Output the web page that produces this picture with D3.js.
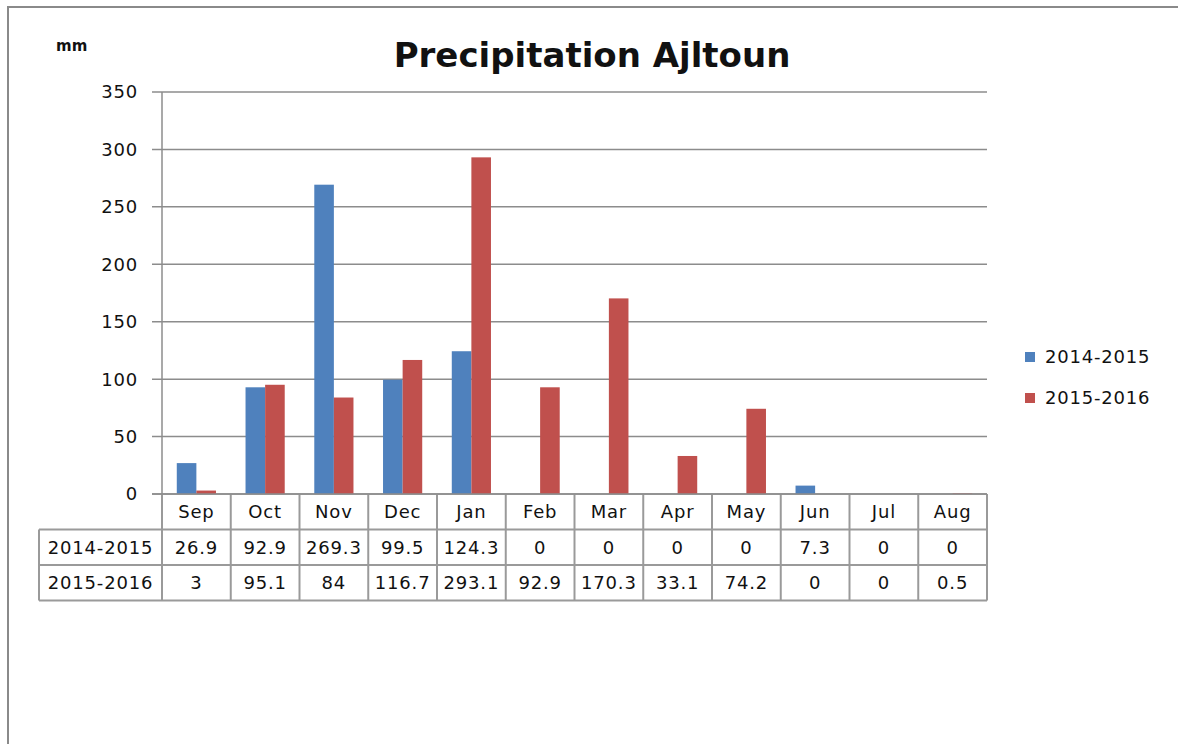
<!DOCTYPE html>
<html>
<head>
<meta charset="utf-8">
<script src="https://cdn.jsdelivr.net/npm/d3@7"></script>
<style>
  html, body { margin: 0; padding: 0; background: #fff; }
  svg { display: block; }
  text { font-family: "DejaVu Sans", Verdana, sans-serif; fill: #111; }
  .lbl { font-size: 18px; letter-spacing: 0.8px; }
</style>
</head>
<body>
<svg id="chart" width="1178" height="744"></svg>
<script>
// Monthly precipitation, Ajltoun (mm)
const months = ["Sep", "Oct", "Nov", "Dec", "Jan", "Feb", "Mar", "Apr", "May", "Jun", "Jul", "Aug"];
const seriesNames = ["2014-2015", "2015-2016"];
const season2014 = [26.9, 92.9, 269.3, 99.5, 124.3, 0, 0, 0, 0, 7.3, 0, 0];
const season2015 = [3, 95.1, 84, 116.7, 293.1, 92.9, 170.3, 33.1, 74.2, 0, 0, 0.5];
const yTicks = [0, 50, 100, 150, 200, 250, 300, 350];
const colors = ["#4F81BD", "#C0504D"];

const seriesValues = [season2014, season2015];

const svg = d3.select("#chart");
const gridColor = "#8c8c8c";
const tableColor = "#9a9a9a";

// frame around the chart area
svg.append("path")
  .attr("d", "M8,744 L8,7 L1178,7")
  .attr("fill", "none")
  .attr("stroke", "#8a8a8a")
  .attr("stroke-width", 2);

const plot = { left: 162, right: 987, top: 92, bottom: 494 };

const x = d3.scaleBand()
  .domain(months)
  .range([plot.left, plot.right])
  .paddingInner(0.43)
  .paddingOuter(0.215);

const xSub = d3.scaleBand()
  .domain(seriesNames)
  .range([0, x.bandwidth()]);

const y = d3.scaleLinear()
  .domain([0, 350])
  .range([plot.bottom, plot.top]);

const step = x.step();
const colLeft = m => x(m) - x.paddingInner() * step / 2;

// horizontal gridlines with tick stubs
svg.append("g").selectAll("line")
  .data(yTicks)
  .join("line")
  .attr("x1", plot.left - 10)
  .attr("x2", plot.right)
  .attr("y1", d => y(d))
  .attr("y2", d => y(d))
  .attr("stroke", gridColor)
  .attr("stroke-width", 1.5);

// y axis labels
svg.append("g").selectAll("text")
  .data(yTicks)
  .join("text")
  .attr("class", "lbl")
  .attr("x", 138)
  .attr("y", d => y(d))
  .attr("dy", "0.36em")
  .attr("text-anchor", "end")
  .text(d => d);

// bars
const groups = svg.append("g").selectAll("g")
  .data(months)
  .join("g")
  .attr("transform", m => `translate(${x(m)},0)`);

groups.selectAll("rect")
  .data((m, i) => seriesNames.map((s, k) => ({ s, v: seriesValues[k][i], k })))
  .join("rect")
  .attr("x", d => xSub(d.s))
  .attr("width", xSub.bandwidth())
  .attr("y", d => y(d.v))
  .attr("height", d => y(0) - y(d.v))
  .attr("fill", d => colors[d.k]);

// y axis line
svg.append("line")
  .attr("x1", plot.left).attr("x2", plot.left)
  .attr("y1", plot.top).attr("y2", plot.bottom)
  .attr("stroke", gridColor)
  .attr("stroke-width", 1.5);

// data table below the axis
const rowH = 35.5;
const tableLeft = 39;
const table = svg.append("g");

// horizontal rules
[1, 2, 3].forEach(r => {
  table.append("line")
    .attr("x1", tableLeft)
    .attr("x2", plot.right)
    .attr("y1", plot.bottom + r * rowH)
    .attr("y2", plot.bottom + r * rowH)
    .attr("stroke", tableColor)
    .attr("stroke-width", 2);
});

// vertical rules
const colEdges = months.map(colLeft).concat([plot.right]);
table.selectAll("line.v")
  .data(colEdges)
  .join("line")
  .attr("class", "v")
  .attr("x1", d => d).attr("x2", d => d)
  .attr("y1", plot.bottom)
  .attr("y2", plot.bottom + 3 * rowH)
  .attr("stroke", tableColor)
  .attr("stroke-width", 2);
table.append("line")
  .attr("x1", tableLeft).attr("x2", tableLeft)
  .attr("y1", plot.bottom + rowH).attr("y2", plot.bottom + 3 * rowH)
  .attr("stroke", tableColor).attr("stroke-width", 2);

// zero line redrawn on top
svg.append("line")
  .attr("x1", plot.left - 10).attr("x2", plot.right)
  .attr("y1", y(0)).attr("y2", y(0))
  .attr("stroke", gridColor).attr("stroke-width", 1.5);

// month headers
table.selectAll("text.m")
  .data(months)
  .join("text")
  .attr("class", "m lbl")
  .attr("x", m => x(m) + x.bandwidth() / 2)
  .attr("y", plot.bottom + rowH / 2)
  .attr("dy", "0.36em")
  .attr("text-anchor", "middle")
  .text(m => m);

// value rows
seriesNames.forEach((s, k) => {
  const cy = plot.bottom + (k + 1) * rowH + rowH / 2;
  table.append("text")
    .attr("class", "lbl")
    .attr("x", (tableLeft + plot.left) / 2)
    .attr("y", cy)
    .attr("dy", "0.36em")
    .attr("text-anchor", "middle")
    .text(s);
  table.selectAll(null)
    .data(seriesValues[k])
    .join("text")
    .attr("class", "lbl")
    .attr("x", (v, i) => x(months[i]) + x.bandwidth() / 2)
    .attr("y", cy)
    .attr("dy", "0.36em")
    .attr("text-anchor", "middle")
    .text(v => v);
});

// title and unit
svg.append("text")
  .attr("x", 592)
  .attr("y", 67)
  .attr("text-anchor", "middle")
  .attr("font-size", 34)
  .attr("font-weight", "bold")
  .text("Precipitation Ajltoun");

svg.append("text")
  .attr("x", 56)
  .attr("y", 51)
  .attr("font-size", 15)
  .attr("font-weight", "bold")
  .text("mm");

// legend
const legend = svg.append("g").selectAll("g")
  .data(seriesNames)
  .join("g")
  .attr("transform", (d, i) => `translate(1025,${357 + i * 41})`);
legend.append("rect")
  .attr("x", 0).attr("y", -5)
  .attr("width", 10).attr("height", 10)
  .attr("fill", (d, i) => colors[i]);
legend.append("text")
  .attr("class", "lbl")
  .attr("x", 20)
  .attr("y", 0)
  .attr("dy", "0.36em")
  .text(d => d);
</script>
</body>
</html>
